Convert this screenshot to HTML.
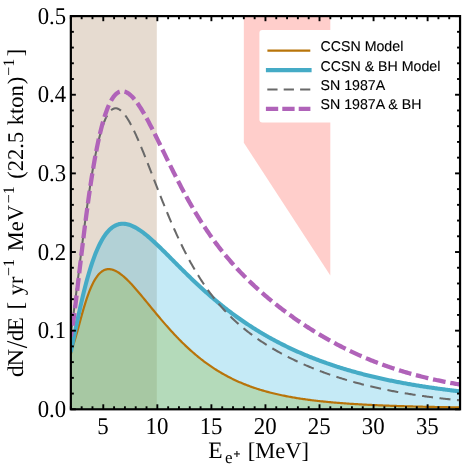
<!DOCTYPE html>
<html><head><meta charset="utf-8"><title>chart</title>
<style>
html,body{margin:0;padding:0;background:#fff;}
svg{display:block;}
text{font-family:"Liberation Serif",serif;font-size:22.5px;fill:#000;text-rendering:geometricPrecision;}
.lg text{font-family:"Liberation Sans",sans-serif;font-size:14.2px;stroke:#000;stroke-width:0.12px;}
</style></head><body>
<svg width="464" height="466" viewBox="0 0 464 466">
<defs><clipPath id="cin"><rect x="70.85" y="16.1" width="85.95000000000002" height="393.2"/></clipPath><clipPath id="cout"><rect x="156.8" y="16.1" width="303.25" height="393.2"/></clipPath><clipPath id="cp"><rect x="70.85" y="16.1" width="389.20000000000005" height="393.2"/></clipPath></defs>
<rect width="464" height="466" fill="#fff"/>
<g clip-path="url(#cp)">
<rect x="70.85" y="16.1" width="85.95000000000002" height="393.2" fill="#e6dbd0"/>
<polygon points="243.83,16.1 330.32,16.1 330.32,275.61 243.83,142.71" fill="#ffcecb"/>
<g><path d="M70.85,354.54 L71.93,348.75 L73.01,345.69 L74.09,342.47 L75.17,338.98 L76.26,335.25 L77.34,331.37 L78.42,327.39 L79.50,323.38 L80.58,319.38 L81.66,315.45 L82.74,311.61 L83.82,307.89 L84.90,304.31 L85.99,300.89 L87.07,297.64 L88.15,294.58 L89.23,291.69 L90.31,289.00 L91.39,286.50 L92.47,284.18 L93.55,282.06 L94.63,280.11 L95.72,278.35 L96.80,276.76 L97.88,275.34 L98.96,274.09 L100.04,272.99 L101.12,272.04 L102.20,271.24 L103.28,270.58 L104.36,270.05 L105.45,269.65 L106.53,269.37 L107.61,269.20 L108.69,269.14 L109.77,269.18 L110.85,269.31 L111.93,269.54 L113.01,269.85 L114.09,270.24 L115.18,270.71 L116.26,271.25 L117.34,271.86 L118.42,272.53 L119.50,273.25 L120.58,274.03 L121.66,274.87 L122.74,275.75 L123.82,276.67 L124.91,277.63 L125.99,278.64 L127.07,279.67 L128.15,280.74 L129.23,281.84 L130.31,282.97 L131.39,284.12 L132.47,285.30 L133.55,286.49 L134.64,287.71 L135.72,288.94 L136.80,290.18 L137.88,291.44 L138.96,292.72 L140.04,294.00 L141.12,295.29 L142.20,296.59 L143.28,297.90 L144.37,299.21 L145.45,300.52 L146.53,301.84 L147.61,303.16 L148.69,304.48 L149.77,305.80 L150.85,307.12 L151.93,308.44 L153.01,309.75 L154.10,311.07 L155.18,312.38 L156.26,313.68 L157.34,314.98 L158.42,316.27 L159.50,317.56 L160.58,318.84 L161.66,320.11 L162.74,321.38 L163.83,322.64 L164.91,323.88 L165.99,325.12 L167.07,326.35 L168.15,327.57 L169.23,328.78 L170.31,329.98 L171.39,331.17 L172.47,332.35 L173.56,333.52 L174.64,334.68 L175.72,335.82 L176.80,336.95 L177.88,338.08 L178.96,339.18 L180.04,340.28 L181.12,341.37 L182.20,342.44 L183.29,343.50 L184.37,344.55 L185.45,345.59 L186.53,346.61 L187.61,347.62 L188.69,348.62 L189.77,349.60 L190.85,350.57 L191.93,351.53 L193.02,352.48 L194.10,353.42 L195.18,354.34 L196.26,355.25 L197.34,356.14 L198.42,357.03 L199.50,357.90 L200.58,358.76 L201.66,359.60 L202.75,360.44 L203.83,361.26 L204.91,362.07 L205.99,362.87 L207.07,363.65 L208.15,364.43 L209.23,365.19 L210.31,365.94 L211.39,366.68 L212.48,367.40 L213.56,368.12 L214.64,368.82 L215.72,369.51 L216.80,370.20 L217.88,370.87 L218.96,371.53 L220.04,372.17 L221.12,372.81 L222.21,373.44 L223.29,374.06 L224.37,374.66 L225.45,375.26 L226.53,375.84 L227.61,376.42 L228.69,376.99 L229.77,377.54 L230.85,378.09 L231.94,378.63 L233.02,379.16 L234.10,379.68 L235.18,380.19 L236.26,380.69 L237.34,381.18 L238.42,381.66 L239.50,382.14 L240.58,382.61 L241.67,383.06 L242.75,383.51 L243.83,383.96 L244.91,384.39 L245.99,384.82 L247.07,385.24 L248.15,385.65 L249.23,386.05 L250.31,386.45 L251.40,386.84 L252.48,387.22 L253.56,387.59 L254.64,387.96 L255.72,388.32 L256.80,388.68 L257.88,389.02 L258.96,389.37 L260.04,389.70 L261.13,390.03 L262.21,390.35 L263.29,390.67 L264.37,390.98 L265.45,391.29 L266.53,391.59 L267.61,391.88 L268.69,392.17 L269.77,392.46 L270.86,392.73 L271.94,393.01 L273.02,393.27 L274.10,393.54 L275.18,393.80 L276.26,394.05 L277.34,394.30 L278.42,394.54 L279.50,394.78 L280.59,395.02 L281.67,395.25 L282.75,395.47 L283.83,395.69 L284.91,395.91 L285.99,396.13 L287.07,396.33 L288.15,396.54 L289.23,396.74 L290.32,396.94 L291.40,397.14 L292.48,397.33 L293.56,397.51 L294.64,397.70 L295.72,397.88 L296.80,398.05 L297.88,398.23 L298.96,398.40 L300.05,398.57 L301.13,398.73 L302.21,398.89 L303.29,399.05 L304.37,399.21 L305.45,399.36 L306.53,399.51 L307.61,399.66 L308.69,399.80 L309.78,399.94 L310.86,400.08 L311.94,400.22 L313.02,400.35 L314.10,400.48 L315.18,400.61 L316.26,400.74 L317.34,400.86 L318.42,400.99 L319.51,401.11 L320.59,401.22 L321.67,401.34 L322.75,401.45 L323.83,401.56 L324.91,401.67 L325.99,401.78 L327.07,401.89 L328.15,401.99 L329.24,402.09 L330.32,402.19 L331.40,402.29 L332.48,402.39 L333.56,402.49 L334.64,402.58 L335.72,402.67 L336.80,402.76 L337.88,402.85 L338.97,402.94 L340.05,403.02 L341.13,403.11 L342.21,403.19 L343.29,403.27 L344.37,403.35 L345.45,403.43 L346.53,403.51 L347.61,403.58 L348.70,403.66 L349.78,403.73 L350.86,403.80 L351.94,403.87 L353.02,403.94 L354.10,404.01 L355.18,404.08 L356.26,404.14 L357.34,404.21 L358.43,404.27 L359.51,404.34 L360.59,404.40 L361.67,404.46 L362.75,404.52 L363.83,404.58 L364.91,404.64 L365.99,404.69 L367.07,404.75 L368.16,404.80 L369.24,404.86 L370.32,404.91 L371.40,404.96 L372.48,405.02 L373.56,405.07 L374.64,405.12 L375.72,405.17 L376.80,405.22 L377.89,405.26 L378.97,405.31 L380.05,405.36 L381.13,405.40 L382.21,405.45 L383.29,405.49 L384.37,405.53 L385.45,405.58 L386.53,405.62 L387.62,405.66 L388.70,405.70 L389.78,405.74 L390.86,405.78 L391.94,405.82 L393.02,405.86 L394.10,405.90 L395.18,405.93 L396.26,405.97 L397.35,406.01 L398.43,406.04 L399.51,406.08 L400.59,406.11 L401.67,406.15 L402.75,406.18 L403.83,406.21 L404.91,406.25 L405.99,406.28 L407.08,406.31 L408.16,406.34 L409.24,406.37 L410.32,406.40 L411.40,406.43 L412.48,406.46 L413.56,406.49 L414.64,406.52 L415.72,406.55 L416.81,406.58 L417.89,406.60 L418.97,406.63 L420.05,406.66 L421.13,406.68 L422.21,406.71 L423.29,406.74 L424.37,406.76 L425.45,406.79 L426.54,406.81 L427.62,406.84 L428.70,406.86 L429.78,406.88 L430.86,406.91 L431.94,406.93 L433.02,406.95 L434.10,406.97 L435.18,407.00 L436.27,407.02 L437.35,407.04 L438.43,407.06 L439.51,407.08 L440.59,407.10 L441.67,407.12 L442.75,407.14 L443.83,407.16 L444.91,407.18 L446.00,407.20 L447.08,407.22 L448.16,407.24 L449.24,407.26 L450.32,407.28 L451.40,407.29 L452.48,407.31 L453.56,407.33 L454.64,407.35 L455.73,407.36 L456.81,407.38 L457.89,407.40 L458.97,407.41 L460.05,407.43 L460.05,409.30 L70.85,409.30 Z" fill="#b4daba"/><path d="M70.85,352.17 L71.93,346.95 L73.01,341.68 L74.09,336.39 L75.17,331.11 L76.26,325.89 L77.34,320.73 L78.42,315.66 L79.50,310.69 L80.58,305.84 L81.66,301.11 L82.74,296.51 L83.82,292.06 L84.90,287.75 L85.99,283.59 L87.07,279.59 L88.15,275.73 L89.23,272.04 L90.31,268.50 L91.39,265.12 L92.47,261.89 L93.55,258.81 L94.63,255.89 L95.72,253.12 L96.80,250.50 L97.88,248.02 L98.96,245.69 L100.04,243.50 L101.12,241.44 L102.20,239.52 L103.28,237.73 L104.36,236.06 L105.45,234.52 L106.53,233.10 L107.61,231.79 L108.69,230.60 L109.77,229.51 L110.85,228.53 L111.93,227.66 L113.01,226.88 L114.09,226.20 L115.18,225.60 L116.26,225.10 L117.34,224.68 L118.42,224.35 L119.50,224.09 L120.58,223.91 L121.66,223.80 L122.74,223.76 L123.82,223.78 L124.91,223.87 L125.99,224.02 L127.07,224.23 L128.15,224.49 L129.23,224.81 L130.31,225.17 L131.39,225.59 L132.47,226.05 L133.55,226.55 L134.64,227.10 L135.72,227.68 L136.80,228.30 L137.88,228.96 L138.96,229.65 L140.04,230.37 L141.12,231.12 L142.20,231.90 L143.28,232.70 L144.37,233.53 L145.45,234.39 L146.53,235.26 L147.61,236.16 L148.69,237.07 L149.77,238.01 L150.85,238.96 L151.93,239.92 L153.01,240.90 L154.10,241.89 L155.18,242.89 L156.26,243.91 L157.34,244.93 L158.42,245.97 L159.50,247.01 L160.58,248.06 L161.66,249.12 L162.74,250.18 L163.83,251.25 L164.91,252.32 L165.99,253.40 L167.07,254.48 L168.15,255.56 L169.23,256.65 L170.31,257.73 L171.39,258.82 L172.47,259.91 L173.56,261.00 L174.64,262.08 L175.72,263.17 L176.80,264.25 L177.88,265.34 L178.96,266.42 L180.04,267.50 L181.12,268.58 L182.20,269.65 L183.29,270.72 L184.37,271.79 L185.45,272.85 L186.53,273.91 L187.61,274.97 L188.69,276.02 L189.77,277.07 L190.85,278.11 L191.93,279.15 L193.02,280.18 L194.10,281.21 L195.18,282.23 L196.26,283.25 L197.34,284.26 L198.42,285.26 L199.50,286.26 L200.58,287.26 L201.66,288.24 L202.75,289.22 L203.83,290.20 L204.91,291.17 L205.99,292.13 L207.07,293.09 L208.15,294.04 L209.23,294.98 L210.31,295.92 L211.39,296.85 L212.48,297.78 L213.56,298.69 L214.64,299.61 L215.72,300.51 L216.80,301.41 L217.88,302.30 L218.96,303.19 L220.04,304.07 L221.12,304.94 L222.21,305.80 L223.29,306.66 L224.37,307.52 L225.45,308.36 L226.53,309.20 L227.61,310.03 L228.69,310.86 L229.77,311.68 L230.85,312.49 L231.94,313.30 L233.02,314.10 L234.10,314.90 L235.18,315.69 L236.26,316.47 L237.34,317.24 L238.42,318.01 L239.50,318.78 L240.58,319.53 L241.67,320.28 L242.75,321.03 L243.83,321.77 L244.91,322.50 L245.99,323.23 L247.07,323.95 L248.15,324.66 L249.23,325.37 L250.31,326.07 L251.40,326.77 L252.48,327.46 L253.56,328.15 L254.64,328.83 L255.72,329.50 L256.80,330.17 L257.88,330.83 L258.96,331.49 L260.04,332.14 L261.13,332.79 L262.21,333.43 L263.29,334.07 L264.37,334.70 L265.45,335.32 L266.53,335.94 L267.61,336.55 L268.69,337.16 L269.77,337.77 L270.86,338.37 L271.94,338.96 L273.02,339.55 L274.10,340.13 L275.18,340.71 L276.26,341.28 L277.34,341.85 L278.42,342.42 L279.50,342.98 L280.59,343.53 L281.67,344.08 L282.75,344.62 L283.83,345.16 L284.91,345.70 L285.99,346.23 L287.07,346.76 L288.15,347.28 L289.23,347.79 L290.32,348.31 L291.40,348.82 L292.48,349.32 L293.56,349.82 L294.64,350.31 L295.72,350.80 L296.80,351.29 L297.88,351.77 L298.96,352.25 L300.05,352.73 L301.13,353.20 L302.21,353.66 L303.29,354.12 L304.37,354.58 L305.45,355.03 L306.53,355.48 L307.61,355.93 L308.69,356.37 L309.78,356.81 L310.86,357.24 L311.94,357.67 L313.02,358.10 L314.10,358.52 L315.18,358.94 L316.26,359.36 L317.34,359.77 L318.42,360.18 L319.51,360.58 L320.59,360.98 L321.67,361.38 L322.75,361.77 L323.83,362.16 L324.91,362.55 L325.99,362.93 L327.07,363.31 L328.15,363.69 L329.24,364.06 L330.32,364.43 L331.40,364.80 L332.48,365.16 L333.56,365.52 L334.64,365.88 L335.72,366.23 L336.80,366.59 L337.88,366.93 L338.97,367.28 L340.05,367.62 L341.13,367.96 L342.21,368.29 L343.29,368.62 L344.37,368.95 L345.45,369.28 L346.53,369.60 L347.61,369.92 L348.70,370.24 L349.78,370.56 L350.86,370.87 L351.94,371.18 L353.02,371.48 L354.10,371.79 L355.18,372.09 L356.26,372.39 L357.34,372.68 L358.43,372.97 L359.51,373.26 L360.59,373.55 L361.67,373.84 L362.75,374.12 L363.83,374.40 L364.91,374.68 L365.99,374.95 L367.07,375.22 L368.16,375.49 L369.24,375.76 L370.32,376.03 L371.40,376.29 L372.48,376.55 L373.56,376.81 L374.64,377.06 L375.72,377.31 L376.80,377.57 L377.89,377.81 L378.97,378.06 L380.05,378.30 L381.13,378.55 L382.21,378.79 L383.29,379.02 L384.37,379.26 L385.45,379.49 L386.53,379.72 L387.62,379.95 L388.70,380.18 L389.78,380.40 L390.86,380.63 L391.94,380.85 L393.02,381.07 L394.10,381.28 L395.18,381.50 L396.26,381.71 L397.35,381.92 L398.43,382.13 L399.51,382.34 L400.59,382.54 L401.67,382.74 L402.75,382.95 L403.83,383.15 L404.91,383.34 L405.99,383.54 L407.08,383.73 L408.16,383.93 L409.24,384.12 L410.32,384.31 L411.40,384.49 L412.48,384.68 L413.56,384.86 L414.64,385.04 L415.72,385.22 L416.81,385.40 L417.89,385.58 L418.97,385.76 L420.05,385.93 L421.13,386.10 L422.21,386.27 L423.29,386.44 L424.37,386.61 L425.45,386.78 L426.54,386.94 L427.62,387.10 L428.70,387.26 L429.78,387.42 L430.86,387.58 L431.94,387.74 L433.02,387.90 L434.10,388.05 L435.18,388.20 L436.27,388.36 L437.35,388.51 L438.43,388.66 L439.51,388.80 L440.59,388.95 L441.67,389.09 L442.75,389.24 L443.83,389.38 L444.91,389.52 L446.00,389.66 L447.08,389.80 L448.16,389.94 L449.24,390.07 L450.32,390.21 L451.40,390.34 L452.48,390.47 L453.56,390.60 L454.64,390.73 L455.73,390.86 L456.81,390.99 L457.89,391.12 L458.97,391.24 L460.05,391.37 L460.05,407.43 L458.97,407.41 L457.89,407.40 L456.81,407.38 L455.73,407.36 L454.64,407.35 L453.56,407.33 L452.48,407.31 L451.40,407.29 L450.32,407.28 L449.24,407.26 L448.16,407.24 L447.08,407.22 L446.00,407.20 L444.91,407.18 L443.83,407.16 L442.75,407.14 L441.67,407.12 L440.59,407.10 L439.51,407.08 L438.43,407.06 L437.35,407.04 L436.27,407.02 L435.18,407.00 L434.10,406.97 L433.02,406.95 L431.94,406.93 L430.86,406.91 L429.78,406.88 L428.70,406.86 L427.62,406.84 L426.54,406.81 L425.45,406.79 L424.37,406.76 L423.29,406.74 L422.21,406.71 L421.13,406.68 L420.05,406.66 L418.97,406.63 L417.89,406.60 L416.81,406.58 L415.72,406.55 L414.64,406.52 L413.56,406.49 L412.48,406.46 L411.40,406.43 L410.32,406.40 L409.24,406.37 L408.16,406.34 L407.08,406.31 L405.99,406.28 L404.91,406.25 L403.83,406.21 L402.75,406.18 L401.67,406.15 L400.59,406.11 L399.51,406.08 L398.43,406.04 L397.35,406.01 L396.26,405.97 L395.18,405.93 L394.10,405.90 L393.02,405.86 L391.94,405.82 L390.86,405.78 L389.78,405.74 L388.70,405.70 L387.62,405.66 L386.53,405.62 L385.45,405.58 L384.37,405.53 L383.29,405.49 L382.21,405.45 L381.13,405.40 L380.05,405.36 L378.97,405.31 L377.89,405.26 L376.80,405.22 L375.72,405.17 L374.64,405.12 L373.56,405.07 L372.48,405.02 L371.40,404.96 L370.32,404.91 L369.24,404.86 L368.16,404.80 L367.07,404.75 L365.99,404.69 L364.91,404.64 L363.83,404.58 L362.75,404.52 L361.67,404.46 L360.59,404.40 L359.51,404.34 L358.43,404.27 L357.34,404.21 L356.26,404.14 L355.18,404.08 L354.10,404.01 L353.02,403.94 L351.94,403.87 L350.86,403.80 L349.78,403.73 L348.70,403.66 L347.61,403.58 L346.53,403.51 L345.45,403.43 L344.37,403.35 L343.29,403.27 L342.21,403.19 L341.13,403.11 L340.05,403.02 L338.97,402.94 L337.88,402.85 L336.80,402.76 L335.72,402.67 L334.64,402.58 L333.56,402.49 L332.48,402.39 L331.40,402.29 L330.32,402.19 L329.24,402.09 L328.15,401.99 L327.07,401.89 L325.99,401.78 L324.91,401.67 L323.83,401.56 L322.75,401.45 L321.67,401.34 L320.59,401.22 L319.51,401.11 L318.42,400.99 L317.34,400.86 L316.26,400.74 L315.18,400.61 L314.10,400.48 L313.02,400.35 L311.94,400.22 L310.86,400.08 L309.78,399.94 L308.69,399.80 L307.61,399.66 L306.53,399.51 L305.45,399.36 L304.37,399.21 L303.29,399.05 L302.21,398.89 L301.13,398.73 L300.05,398.57 L298.96,398.40 L297.88,398.23 L296.80,398.05 L295.72,397.88 L294.64,397.70 L293.56,397.51 L292.48,397.33 L291.40,397.14 L290.32,396.94 L289.23,396.74 L288.15,396.54 L287.07,396.33 L285.99,396.13 L284.91,395.91 L283.83,395.69 L282.75,395.47 L281.67,395.25 L280.59,395.02 L279.50,394.78 L278.42,394.54 L277.34,394.30 L276.26,394.05 L275.18,393.80 L274.10,393.54 L273.02,393.27 L271.94,393.01 L270.86,392.73 L269.77,392.46 L268.69,392.17 L267.61,391.88 L266.53,391.59 L265.45,391.29 L264.37,390.98 L263.29,390.67 L262.21,390.35 L261.13,390.03 L260.04,389.70 L258.96,389.37 L257.88,389.02 L256.80,388.68 L255.72,388.32 L254.64,387.96 L253.56,387.59 L252.48,387.22 L251.40,386.84 L250.31,386.45 L249.23,386.05 L248.15,385.65 L247.07,385.24 L245.99,384.82 L244.91,384.39 L243.83,383.96 L242.75,383.51 L241.67,383.06 L240.58,382.61 L239.50,382.14 L238.42,381.66 L237.34,381.18 L236.26,380.69 L235.18,380.19 L234.10,379.68 L233.02,379.16 L231.94,378.63 L230.85,378.09 L229.77,377.54 L228.69,376.99 L227.61,376.42 L226.53,375.84 L225.45,375.26 L224.37,374.66 L223.29,374.06 L222.21,373.44 L221.12,372.81 L220.04,372.17 L218.96,371.53 L217.88,370.87 L216.80,370.20 L215.72,369.51 L214.64,368.82 L213.56,368.12 L212.48,367.40 L211.39,366.68 L210.31,365.94 L209.23,365.19 L208.15,364.43 L207.07,363.65 L205.99,362.87 L204.91,362.07 L203.83,361.26 L202.75,360.44 L201.66,359.60 L200.58,358.76 L199.50,357.90 L198.42,357.03 L197.34,356.14 L196.26,355.25 L195.18,354.34 L194.10,353.42 L193.02,352.48 L191.93,351.53 L190.85,350.57 L189.77,349.60 L188.69,348.62 L187.61,347.62 L186.53,346.61 L185.45,345.59 L184.37,344.55 L183.29,343.50 L182.20,342.44 L181.12,341.37 L180.04,340.28 L178.96,339.18 L177.88,338.08 L176.80,336.95 L175.72,335.82 L174.64,334.68 L173.56,333.52 L172.47,332.35 L171.39,331.17 L170.31,329.98 L169.23,328.78 L168.15,327.57 L167.07,326.35 L165.99,325.12 L164.91,323.88 L163.83,322.64 L162.74,321.38 L161.66,320.11 L160.58,318.84 L159.50,317.56 L158.42,316.27 L157.34,314.98 L156.26,313.68 L155.18,312.38 L154.10,311.07 L153.01,309.75 L151.93,308.44 L150.85,307.12 L149.77,305.80 L148.69,304.48 L147.61,303.16 L146.53,301.84 L145.45,300.52 L144.37,299.21 L143.28,297.90 L142.20,296.59 L141.12,295.29 L140.04,294.00 L138.96,292.72 L137.88,291.44 L136.80,290.18 L135.72,288.94 L134.64,287.71 L133.55,286.49 L132.47,285.30 L131.39,284.12 L130.31,282.97 L129.23,281.84 L128.15,280.74 L127.07,279.67 L125.99,278.64 L124.91,277.63 L123.82,276.67 L122.74,275.75 L121.66,274.87 L120.58,274.03 L119.50,273.25 L118.42,272.53 L117.34,271.86 L116.26,271.25 L115.18,270.71 L114.09,270.24 L113.01,269.85 L111.93,269.54 L110.85,269.31 L109.77,269.18 L108.69,269.14 L107.61,269.20 L106.53,269.37 L105.45,269.65 L104.36,270.05 L103.28,270.58 L102.20,271.24 L101.12,272.04 L100.04,272.99 L98.96,274.09 L97.88,275.34 L96.80,276.76 L95.72,278.35 L94.63,280.11 L93.55,282.06 L92.47,284.18 L91.39,286.50 L90.31,289.00 L89.23,291.69 L88.15,294.58 L87.07,297.64 L85.99,300.89 L84.90,304.31 L83.82,307.89 L82.74,311.61 L81.66,315.45 L80.58,319.38 L79.50,323.38 L78.42,327.39 L77.34,331.37 L76.26,335.25 L75.17,338.98 L74.09,342.47 L73.01,345.69 L71.93,348.75 L70.85,354.54 Z" fill="#c5eaf6"/></g>
<g clip-path="url(#cin)"><path d="M70.85,354.54 L71.93,348.75 L73.01,345.69 L74.09,342.47 L75.17,338.98 L76.26,335.25 L77.34,331.37 L78.42,327.39 L79.50,323.38 L80.58,319.38 L81.66,315.45 L82.74,311.61 L83.82,307.89 L84.90,304.31 L85.99,300.89 L87.07,297.64 L88.15,294.58 L89.23,291.69 L90.31,289.00 L91.39,286.50 L92.47,284.18 L93.55,282.06 L94.63,280.11 L95.72,278.35 L96.80,276.76 L97.88,275.34 L98.96,274.09 L100.04,272.99 L101.12,272.04 L102.20,271.24 L103.28,270.58 L104.36,270.05 L105.45,269.65 L106.53,269.37 L107.61,269.20 L108.69,269.14 L109.77,269.18 L110.85,269.31 L111.93,269.54 L113.01,269.85 L114.09,270.24 L115.18,270.71 L116.26,271.25 L117.34,271.86 L118.42,272.53 L119.50,273.25 L120.58,274.03 L121.66,274.87 L122.74,275.75 L123.82,276.67 L124.91,277.63 L125.99,278.64 L127.07,279.67 L128.15,280.74 L129.23,281.84 L130.31,282.97 L131.39,284.12 L132.47,285.30 L133.55,286.49 L134.64,287.71 L135.72,288.94 L136.80,290.18 L137.88,291.44 L138.96,292.72 L140.04,294.00 L141.12,295.29 L142.20,296.59 L143.28,297.90 L144.37,299.21 L145.45,300.52 L146.53,301.84 L147.61,303.16 L148.69,304.48 L149.77,305.80 L150.85,307.12 L151.93,308.44 L153.01,309.75 L154.10,311.07 L155.18,312.38 L156.26,313.68 L157.34,314.98 L158.42,316.27 L159.50,317.56 L160.58,318.84 L161.66,320.11 L162.74,321.38 L163.83,322.64 L164.91,323.88 L165.99,325.12 L167.07,326.35 L168.15,327.57 L169.23,328.78 L170.31,329.98 L171.39,331.17 L172.47,332.35 L173.56,333.52 L174.64,334.68 L175.72,335.82 L176.80,336.95 L177.88,338.08 L178.96,339.18 L180.04,340.28 L181.12,341.37 L182.20,342.44 L183.29,343.50 L184.37,344.55 L185.45,345.59 L186.53,346.61 L187.61,347.62 L188.69,348.62 L189.77,349.60 L190.85,350.57 L191.93,351.53 L193.02,352.48 L194.10,353.42 L195.18,354.34 L196.26,355.25 L197.34,356.14 L198.42,357.03 L199.50,357.90 L200.58,358.76 L201.66,359.60 L202.75,360.44 L203.83,361.26 L204.91,362.07 L205.99,362.87 L207.07,363.65 L208.15,364.43 L209.23,365.19 L210.31,365.94 L211.39,366.68 L212.48,367.40 L213.56,368.12 L214.64,368.82 L215.72,369.51 L216.80,370.20 L217.88,370.87 L218.96,371.53 L220.04,372.17 L221.12,372.81 L222.21,373.44 L223.29,374.06 L224.37,374.66 L225.45,375.26 L226.53,375.84 L227.61,376.42 L228.69,376.99 L229.77,377.54 L230.85,378.09 L231.94,378.63 L233.02,379.16 L234.10,379.68 L235.18,380.19 L236.26,380.69 L237.34,381.18 L238.42,381.66 L239.50,382.14 L240.58,382.61 L241.67,383.06 L242.75,383.51 L243.83,383.96 L244.91,384.39 L245.99,384.82 L247.07,385.24 L248.15,385.65 L249.23,386.05 L250.31,386.45 L251.40,386.84 L252.48,387.22 L253.56,387.59 L254.64,387.96 L255.72,388.32 L256.80,388.68 L257.88,389.02 L258.96,389.37 L260.04,389.70 L261.13,390.03 L262.21,390.35 L263.29,390.67 L264.37,390.98 L265.45,391.29 L266.53,391.59 L267.61,391.88 L268.69,392.17 L269.77,392.46 L270.86,392.73 L271.94,393.01 L273.02,393.27 L274.10,393.54 L275.18,393.80 L276.26,394.05 L277.34,394.30 L278.42,394.54 L279.50,394.78 L280.59,395.02 L281.67,395.25 L282.75,395.47 L283.83,395.69 L284.91,395.91 L285.99,396.13 L287.07,396.33 L288.15,396.54 L289.23,396.74 L290.32,396.94 L291.40,397.14 L292.48,397.33 L293.56,397.51 L294.64,397.70 L295.72,397.88 L296.80,398.05 L297.88,398.23 L298.96,398.40 L300.05,398.57 L301.13,398.73 L302.21,398.89 L303.29,399.05 L304.37,399.21 L305.45,399.36 L306.53,399.51 L307.61,399.66 L308.69,399.80 L309.78,399.94 L310.86,400.08 L311.94,400.22 L313.02,400.35 L314.10,400.48 L315.18,400.61 L316.26,400.74 L317.34,400.86 L318.42,400.99 L319.51,401.11 L320.59,401.22 L321.67,401.34 L322.75,401.45 L323.83,401.56 L324.91,401.67 L325.99,401.78 L327.07,401.89 L328.15,401.99 L329.24,402.09 L330.32,402.19 L331.40,402.29 L332.48,402.39 L333.56,402.49 L334.64,402.58 L335.72,402.67 L336.80,402.76 L337.88,402.85 L338.97,402.94 L340.05,403.02 L341.13,403.11 L342.21,403.19 L343.29,403.27 L344.37,403.35 L345.45,403.43 L346.53,403.51 L347.61,403.58 L348.70,403.66 L349.78,403.73 L350.86,403.80 L351.94,403.87 L353.02,403.94 L354.10,404.01 L355.18,404.08 L356.26,404.14 L357.34,404.21 L358.43,404.27 L359.51,404.34 L360.59,404.40 L361.67,404.46 L362.75,404.52 L363.83,404.58 L364.91,404.64 L365.99,404.69 L367.07,404.75 L368.16,404.80 L369.24,404.86 L370.32,404.91 L371.40,404.96 L372.48,405.02 L373.56,405.07 L374.64,405.12 L375.72,405.17 L376.80,405.22 L377.89,405.26 L378.97,405.31 L380.05,405.36 L381.13,405.40 L382.21,405.45 L383.29,405.49 L384.37,405.53 L385.45,405.58 L386.53,405.62 L387.62,405.66 L388.70,405.70 L389.78,405.74 L390.86,405.78 L391.94,405.82 L393.02,405.86 L394.10,405.90 L395.18,405.93 L396.26,405.97 L397.35,406.01 L398.43,406.04 L399.51,406.08 L400.59,406.11 L401.67,406.15 L402.75,406.18 L403.83,406.21 L404.91,406.25 L405.99,406.28 L407.08,406.31 L408.16,406.34 L409.24,406.37 L410.32,406.40 L411.40,406.43 L412.48,406.46 L413.56,406.49 L414.64,406.52 L415.72,406.55 L416.81,406.58 L417.89,406.60 L418.97,406.63 L420.05,406.66 L421.13,406.68 L422.21,406.71 L423.29,406.74 L424.37,406.76 L425.45,406.79 L426.54,406.81 L427.62,406.84 L428.70,406.86 L429.78,406.88 L430.86,406.91 L431.94,406.93 L433.02,406.95 L434.10,406.97 L435.18,407.00 L436.27,407.02 L437.35,407.04 L438.43,407.06 L439.51,407.08 L440.59,407.10 L441.67,407.12 L442.75,407.14 L443.83,407.16 L444.91,407.18 L446.00,407.20 L447.08,407.22 L448.16,407.24 L449.24,407.26 L450.32,407.28 L451.40,407.29 L452.48,407.31 L453.56,407.33 L454.64,407.35 L455.73,407.36 L456.81,407.38 L457.89,407.40 L458.97,407.41 L460.05,407.43 L460.05,409.30 L70.85,409.30 Z" fill="#a7c8a3"/><path d="M70.85,352.17 L71.93,346.95 L73.01,341.68 L74.09,336.39 L75.17,331.11 L76.26,325.89 L77.34,320.73 L78.42,315.66 L79.50,310.69 L80.58,305.84 L81.66,301.11 L82.74,296.51 L83.82,292.06 L84.90,287.75 L85.99,283.59 L87.07,279.59 L88.15,275.73 L89.23,272.04 L90.31,268.50 L91.39,265.12 L92.47,261.89 L93.55,258.81 L94.63,255.89 L95.72,253.12 L96.80,250.50 L97.88,248.02 L98.96,245.69 L100.04,243.50 L101.12,241.44 L102.20,239.52 L103.28,237.73 L104.36,236.06 L105.45,234.52 L106.53,233.10 L107.61,231.79 L108.69,230.60 L109.77,229.51 L110.85,228.53 L111.93,227.66 L113.01,226.88 L114.09,226.20 L115.18,225.60 L116.26,225.10 L117.34,224.68 L118.42,224.35 L119.50,224.09 L120.58,223.91 L121.66,223.80 L122.74,223.76 L123.82,223.78 L124.91,223.87 L125.99,224.02 L127.07,224.23 L128.15,224.49 L129.23,224.81 L130.31,225.17 L131.39,225.59 L132.47,226.05 L133.55,226.55 L134.64,227.10 L135.72,227.68 L136.80,228.30 L137.88,228.96 L138.96,229.65 L140.04,230.37 L141.12,231.12 L142.20,231.90 L143.28,232.70 L144.37,233.53 L145.45,234.39 L146.53,235.26 L147.61,236.16 L148.69,237.07 L149.77,238.01 L150.85,238.96 L151.93,239.92 L153.01,240.90 L154.10,241.89 L155.18,242.89 L156.26,243.91 L157.34,244.93 L158.42,245.97 L159.50,247.01 L160.58,248.06 L161.66,249.12 L162.74,250.18 L163.83,251.25 L164.91,252.32 L165.99,253.40 L167.07,254.48 L168.15,255.56 L169.23,256.65 L170.31,257.73 L171.39,258.82 L172.47,259.91 L173.56,261.00 L174.64,262.08 L175.72,263.17 L176.80,264.25 L177.88,265.34 L178.96,266.42 L180.04,267.50 L181.12,268.58 L182.20,269.65 L183.29,270.72 L184.37,271.79 L185.45,272.85 L186.53,273.91 L187.61,274.97 L188.69,276.02 L189.77,277.07 L190.85,278.11 L191.93,279.15 L193.02,280.18 L194.10,281.21 L195.18,282.23 L196.26,283.25 L197.34,284.26 L198.42,285.26 L199.50,286.26 L200.58,287.26 L201.66,288.24 L202.75,289.22 L203.83,290.20 L204.91,291.17 L205.99,292.13 L207.07,293.09 L208.15,294.04 L209.23,294.98 L210.31,295.92 L211.39,296.85 L212.48,297.78 L213.56,298.69 L214.64,299.61 L215.72,300.51 L216.80,301.41 L217.88,302.30 L218.96,303.19 L220.04,304.07 L221.12,304.94 L222.21,305.80 L223.29,306.66 L224.37,307.52 L225.45,308.36 L226.53,309.20 L227.61,310.03 L228.69,310.86 L229.77,311.68 L230.85,312.49 L231.94,313.30 L233.02,314.10 L234.10,314.90 L235.18,315.69 L236.26,316.47 L237.34,317.24 L238.42,318.01 L239.50,318.78 L240.58,319.53 L241.67,320.28 L242.75,321.03 L243.83,321.77 L244.91,322.50 L245.99,323.23 L247.07,323.95 L248.15,324.66 L249.23,325.37 L250.31,326.07 L251.40,326.77 L252.48,327.46 L253.56,328.15 L254.64,328.83 L255.72,329.50 L256.80,330.17 L257.88,330.83 L258.96,331.49 L260.04,332.14 L261.13,332.79 L262.21,333.43 L263.29,334.07 L264.37,334.70 L265.45,335.32 L266.53,335.94 L267.61,336.55 L268.69,337.16 L269.77,337.77 L270.86,338.37 L271.94,338.96 L273.02,339.55 L274.10,340.13 L275.18,340.71 L276.26,341.28 L277.34,341.85 L278.42,342.42 L279.50,342.98 L280.59,343.53 L281.67,344.08 L282.75,344.62 L283.83,345.16 L284.91,345.70 L285.99,346.23 L287.07,346.76 L288.15,347.28 L289.23,347.79 L290.32,348.31 L291.40,348.82 L292.48,349.32 L293.56,349.82 L294.64,350.31 L295.72,350.80 L296.80,351.29 L297.88,351.77 L298.96,352.25 L300.05,352.73 L301.13,353.20 L302.21,353.66 L303.29,354.12 L304.37,354.58 L305.45,355.03 L306.53,355.48 L307.61,355.93 L308.69,356.37 L309.78,356.81 L310.86,357.24 L311.94,357.67 L313.02,358.10 L314.10,358.52 L315.18,358.94 L316.26,359.36 L317.34,359.77 L318.42,360.18 L319.51,360.58 L320.59,360.98 L321.67,361.38 L322.75,361.77 L323.83,362.16 L324.91,362.55 L325.99,362.93 L327.07,363.31 L328.15,363.69 L329.24,364.06 L330.32,364.43 L331.40,364.80 L332.48,365.16 L333.56,365.52 L334.64,365.88 L335.72,366.23 L336.80,366.59 L337.88,366.93 L338.97,367.28 L340.05,367.62 L341.13,367.96 L342.21,368.29 L343.29,368.62 L344.37,368.95 L345.45,369.28 L346.53,369.60 L347.61,369.92 L348.70,370.24 L349.78,370.56 L350.86,370.87 L351.94,371.18 L353.02,371.48 L354.10,371.79 L355.18,372.09 L356.26,372.39 L357.34,372.68 L358.43,372.97 L359.51,373.26 L360.59,373.55 L361.67,373.84 L362.75,374.12 L363.83,374.40 L364.91,374.68 L365.99,374.95 L367.07,375.22 L368.16,375.49 L369.24,375.76 L370.32,376.03 L371.40,376.29 L372.48,376.55 L373.56,376.81 L374.64,377.06 L375.72,377.31 L376.80,377.57 L377.89,377.81 L378.97,378.06 L380.05,378.30 L381.13,378.55 L382.21,378.79 L383.29,379.02 L384.37,379.26 L385.45,379.49 L386.53,379.72 L387.62,379.95 L388.70,380.18 L389.78,380.40 L390.86,380.63 L391.94,380.85 L393.02,381.07 L394.10,381.28 L395.18,381.50 L396.26,381.71 L397.35,381.92 L398.43,382.13 L399.51,382.34 L400.59,382.54 L401.67,382.74 L402.75,382.95 L403.83,383.15 L404.91,383.34 L405.99,383.54 L407.08,383.73 L408.16,383.93 L409.24,384.12 L410.32,384.31 L411.40,384.49 L412.48,384.68 L413.56,384.86 L414.64,385.04 L415.72,385.22 L416.81,385.40 L417.89,385.58 L418.97,385.76 L420.05,385.93 L421.13,386.10 L422.21,386.27 L423.29,386.44 L424.37,386.61 L425.45,386.78 L426.54,386.94 L427.62,387.10 L428.70,387.26 L429.78,387.42 L430.86,387.58 L431.94,387.74 L433.02,387.90 L434.10,388.05 L435.18,388.20 L436.27,388.36 L437.35,388.51 L438.43,388.66 L439.51,388.80 L440.59,388.95 L441.67,389.09 L442.75,389.24 L443.83,389.38 L444.91,389.52 L446.00,389.66 L447.08,389.80 L448.16,389.94 L449.24,390.07 L450.32,390.21 L451.40,390.34 L452.48,390.47 L453.56,390.60 L454.64,390.73 L455.73,390.86 L456.81,390.99 L457.89,391.12 L458.97,391.24 L460.05,391.37 L460.05,407.43 L458.97,407.41 L457.89,407.40 L456.81,407.38 L455.73,407.36 L454.64,407.35 L453.56,407.33 L452.48,407.31 L451.40,407.29 L450.32,407.28 L449.24,407.26 L448.16,407.24 L447.08,407.22 L446.00,407.20 L444.91,407.18 L443.83,407.16 L442.75,407.14 L441.67,407.12 L440.59,407.10 L439.51,407.08 L438.43,407.06 L437.35,407.04 L436.27,407.02 L435.18,407.00 L434.10,406.97 L433.02,406.95 L431.94,406.93 L430.86,406.91 L429.78,406.88 L428.70,406.86 L427.62,406.84 L426.54,406.81 L425.45,406.79 L424.37,406.76 L423.29,406.74 L422.21,406.71 L421.13,406.68 L420.05,406.66 L418.97,406.63 L417.89,406.60 L416.81,406.58 L415.72,406.55 L414.64,406.52 L413.56,406.49 L412.48,406.46 L411.40,406.43 L410.32,406.40 L409.24,406.37 L408.16,406.34 L407.08,406.31 L405.99,406.28 L404.91,406.25 L403.83,406.21 L402.75,406.18 L401.67,406.15 L400.59,406.11 L399.51,406.08 L398.43,406.04 L397.35,406.01 L396.26,405.97 L395.18,405.93 L394.10,405.90 L393.02,405.86 L391.94,405.82 L390.86,405.78 L389.78,405.74 L388.70,405.70 L387.62,405.66 L386.53,405.62 L385.45,405.58 L384.37,405.53 L383.29,405.49 L382.21,405.45 L381.13,405.40 L380.05,405.36 L378.97,405.31 L377.89,405.26 L376.80,405.22 L375.72,405.17 L374.64,405.12 L373.56,405.07 L372.48,405.02 L371.40,404.96 L370.32,404.91 L369.24,404.86 L368.16,404.80 L367.07,404.75 L365.99,404.69 L364.91,404.64 L363.83,404.58 L362.75,404.52 L361.67,404.46 L360.59,404.40 L359.51,404.34 L358.43,404.27 L357.34,404.21 L356.26,404.14 L355.18,404.08 L354.10,404.01 L353.02,403.94 L351.94,403.87 L350.86,403.80 L349.78,403.73 L348.70,403.66 L347.61,403.58 L346.53,403.51 L345.45,403.43 L344.37,403.35 L343.29,403.27 L342.21,403.19 L341.13,403.11 L340.05,403.02 L338.97,402.94 L337.88,402.85 L336.80,402.76 L335.72,402.67 L334.64,402.58 L333.56,402.49 L332.48,402.39 L331.40,402.29 L330.32,402.19 L329.24,402.09 L328.15,401.99 L327.07,401.89 L325.99,401.78 L324.91,401.67 L323.83,401.56 L322.75,401.45 L321.67,401.34 L320.59,401.22 L319.51,401.11 L318.42,400.99 L317.34,400.86 L316.26,400.74 L315.18,400.61 L314.10,400.48 L313.02,400.35 L311.94,400.22 L310.86,400.08 L309.78,399.94 L308.69,399.80 L307.61,399.66 L306.53,399.51 L305.45,399.36 L304.37,399.21 L303.29,399.05 L302.21,398.89 L301.13,398.73 L300.05,398.57 L298.96,398.40 L297.88,398.23 L296.80,398.05 L295.72,397.88 L294.64,397.70 L293.56,397.51 L292.48,397.33 L291.40,397.14 L290.32,396.94 L289.23,396.74 L288.15,396.54 L287.07,396.33 L285.99,396.13 L284.91,395.91 L283.83,395.69 L282.75,395.47 L281.67,395.25 L280.59,395.02 L279.50,394.78 L278.42,394.54 L277.34,394.30 L276.26,394.05 L275.18,393.80 L274.10,393.54 L273.02,393.27 L271.94,393.01 L270.86,392.73 L269.77,392.46 L268.69,392.17 L267.61,391.88 L266.53,391.59 L265.45,391.29 L264.37,390.98 L263.29,390.67 L262.21,390.35 L261.13,390.03 L260.04,389.70 L258.96,389.37 L257.88,389.02 L256.80,388.68 L255.72,388.32 L254.64,387.96 L253.56,387.59 L252.48,387.22 L251.40,386.84 L250.31,386.45 L249.23,386.05 L248.15,385.65 L247.07,385.24 L245.99,384.82 L244.91,384.39 L243.83,383.96 L242.75,383.51 L241.67,383.06 L240.58,382.61 L239.50,382.14 L238.42,381.66 L237.34,381.18 L236.26,380.69 L235.18,380.19 L234.10,379.68 L233.02,379.16 L231.94,378.63 L230.85,378.09 L229.77,377.54 L228.69,376.99 L227.61,376.42 L226.53,375.84 L225.45,375.26 L224.37,374.66 L223.29,374.06 L222.21,373.44 L221.12,372.81 L220.04,372.17 L218.96,371.53 L217.88,370.87 L216.80,370.20 L215.72,369.51 L214.64,368.82 L213.56,368.12 L212.48,367.40 L211.39,366.68 L210.31,365.94 L209.23,365.19 L208.15,364.43 L207.07,363.65 L205.99,362.87 L204.91,362.07 L203.83,361.26 L202.75,360.44 L201.66,359.60 L200.58,358.76 L199.50,357.90 L198.42,357.03 L197.34,356.14 L196.26,355.25 L195.18,354.34 L194.10,353.42 L193.02,352.48 L191.93,351.53 L190.85,350.57 L189.77,349.60 L188.69,348.62 L187.61,347.62 L186.53,346.61 L185.45,345.59 L184.37,344.55 L183.29,343.50 L182.20,342.44 L181.12,341.37 L180.04,340.28 L178.96,339.18 L177.88,338.08 L176.80,336.95 L175.72,335.82 L174.64,334.68 L173.56,333.52 L172.47,332.35 L171.39,331.17 L170.31,329.98 L169.23,328.78 L168.15,327.57 L167.07,326.35 L165.99,325.12 L164.91,323.88 L163.83,322.64 L162.74,321.38 L161.66,320.11 L160.58,318.84 L159.50,317.56 L158.42,316.27 L157.34,314.98 L156.26,313.68 L155.18,312.38 L154.10,311.07 L153.01,309.75 L151.93,308.44 L150.85,307.12 L149.77,305.80 L148.69,304.48 L147.61,303.16 L146.53,301.84 L145.45,300.52 L144.37,299.21 L143.28,297.90 L142.20,296.59 L141.12,295.29 L140.04,294.00 L138.96,292.72 L137.88,291.44 L136.80,290.18 L135.72,288.94 L134.64,287.71 L133.55,286.49 L132.47,285.30 L131.39,284.12 L130.31,282.97 L129.23,281.84 L128.15,280.74 L127.07,279.67 L125.99,278.64 L124.91,277.63 L123.82,276.67 L122.74,275.75 L121.66,274.87 L120.58,274.03 L119.50,273.25 L118.42,272.53 L117.34,271.86 L116.26,271.25 L115.18,270.71 L114.09,270.24 L113.01,269.85 L111.93,269.54 L110.85,269.31 L109.77,269.18 L108.69,269.14 L107.61,269.20 L106.53,269.37 L105.45,269.65 L104.36,270.05 L103.28,270.58 L102.20,271.24 L101.12,272.04 L100.04,272.99 L98.96,274.09 L97.88,275.34 L96.80,276.76 L95.72,278.35 L94.63,280.11 L93.55,282.06 L92.47,284.18 L91.39,286.50 L90.31,289.00 L89.23,291.69 L88.15,294.58 L87.07,297.64 L85.99,300.89 L84.90,304.31 L83.82,307.89 L82.74,311.61 L81.66,315.45 L80.58,319.38 L79.50,323.38 L78.42,327.39 L77.34,331.37 L76.26,335.25 L75.17,338.98 L74.09,342.47 L73.01,345.69 L71.93,348.75 L70.85,354.54 Z" fill="#b2d1d6"/></g>
<path d="M70.85,354.54 L71.93,348.75 L73.01,345.69 L74.09,342.47 L75.17,338.98 L76.26,335.25 L77.34,331.37 L78.42,327.39 L79.50,323.38 L80.58,319.38 L81.66,315.45 L82.74,311.61 L83.82,307.89 L84.90,304.31 L85.99,300.89 L87.07,297.64 L88.15,294.58 L89.23,291.69 L90.31,289.00 L91.39,286.50 L92.47,284.18 L93.55,282.06 L94.63,280.11 L95.72,278.35 L96.80,276.76 L97.88,275.34 L98.96,274.09 L100.04,272.99 L101.12,272.04 L102.20,271.24 L103.28,270.58 L104.36,270.05 L105.45,269.65 L106.53,269.37 L107.61,269.20 L108.69,269.14 L109.77,269.18 L110.85,269.31 L111.93,269.54 L113.01,269.85 L114.09,270.24 L115.18,270.71 L116.26,271.25 L117.34,271.86 L118.42,272.53 L119.50,273.25 L120.58,274.03 L121.66,274.87 L122.74,275.75 L123.82,276.67 L124.91,277.63 L125.99,278.64 L127.07,279.67 L128.15,280.74 L129.23,281.84 L130.31,282.97 L131.39,284.12 L132.47,285.30 L133.55,286.49 L134.64,287.71 L135.72,288.94 L136.80,290.18 L137.88,291.44 L138.96,292.72 L140.04,294.00 L141.12,295.29 L142.20,296.59 L143.28,297.90 L144.37,299.21 L145.45,300.52 L146.53,301.84 L147.61,303.16 L148.69,304.48 L149.77,305.80 L150.85,307.12 L151.93,308.44 L153.01,309.75 L154.10,311.07 L155.18,312.38 L156.26,313.68 L157.34,314.98 L158.42,316.27 L159.50,317.56 L160.58,318.84 L161.66,320.11 L162.74,321.38 L163.83,322.64 L164.91,323.88 L165.99,325.12 L167.07,326.35 L168.15,327.57 L169.23,328.78 L170.31,329.98 L171.39,331.17 L172.47,332.35 L173.56,333.52 L174.64,334.68 L175.72,335.82 L176.80,336.95 L177.88,338.08 L178.96,339.18 L180.04,340.28 L181.12,341.37 L182.20,342.44 L183.29,343.50 L184.37,344.55 L185.45,345.59 L186.53,346.61 L187.61,347.62 L188.69,348.62 L189.77,349.60 L190.85,350.57 L191.93,351.53 L193.02,352.48 L194.10,353.42 L195.18,354.34 L196.26,355.25 L197.34,356.14 L198.42,357.03 L199.50,357.90 L200.58,358.76 L201.66,359.60 L202.75,360.44 L203.83,361.26 L204.91,362.07 L205.99,362.87 L207.07,363.65 L208.15,364.43 L209.23,365.19 L210.31,365.94 L211.39,366.68 L212.48,367.40 L213.56,368.12 L214.64,368.82 L215.72,369.51 L216.80,370.20 L217.88,370.87 L218.96,371.53 L220.04,372.17 L221.12,372.81 L222.21,373.44 L223.29,374.06 L224.37,374.66 L225.45,375.26 L226.53,375.84 L227.61,376.42 L228.69,376.99 L229.77,377.54 L230.85,378.09 L231.94,378.63 L233.02,379.16 L234.10,379.68 L235.18,380.19 L236.26,380.69 L237.34,381.18 L238.42,381.66 L239.50,382.14 L240.58,382.61 L241.67,383.06 L242.75,383.51 L243.83,383.96 L244.91,384.39 L245.99,384.82 L247.07,385.24 L248.15,385.65 L249.23,386.05 L250.31,386.45 L251.40,386.84 L252.48,387.22 L253.56,387.59 L254.64,387.96 L255.72,388.32 L256.80,388.68 L257.88,389.02 L258.96,389.37 L260.04,389.70 L261.13,390.03 L262.21,390.35 L263.29,390.67 L264.37,390.98 L265.45,391.29 L266.53,391.59 L267.61,391.88 L268.69,392.17 L269.77,392.46 L270.86,392.73 L271.94,393.01 L273.02,393.27 L274.10,393.54 L275.18,393.80 L276.26,394.05 L277.34,394.30 L278.42,394.54 L279.50,394.78 L280.59,395.02 L281.67,395.25 L282.75,395.47 L283.83,395.69 L284.91,395.91 L285.99,396.13 L287.07,396.33 L288.15,396.54 L289.23,396.74 L290.32,396.94 L291.40,397.14 L292.48,397.33 L293.56,397.51 L294.64,397.70 L295.72,397.88 L296.80,398.05 L297.88,398.23 L298.96,398.40 L300.05,398.57 L301.13,398.73 L302.21,398.89 L303.29,399.05 L304.37,399.21 L305.45,399.36 L306.53,399.51 L307.61,399.66 L308.69,399.80 L309.78,399.94 L310.86,400.08 L311.94,400.22 L313.02,400.35 L314.10,400.48 L315.18,400.61 L316.26,400.74 L317.34,400.86 L318.42,400.99 L319.51,401.11 L320.59,401.22 L321.67,401.34 L322.75,401.45 L323.83,401.56 L324.91,401.67 L325.99,401.78 L327.07,401.89 L328.15,401.99 L329.24,402.09 L330.32,402.19 L331.40,402.29 L332.48,402.39 L333.56,402.49 L334.64,402.58 L335.72,402.67 L336.80,402.76 L337.88,402.85 L338.97,402.94 L340.05,403.02 L341.13,403.11 L342.21,403.19 L343.29,403.27 L344.37,403.35 L345.45,403.43 L346.53,403.51 L347.61,403.58 L348.70,403.66 L349.78,403.73 L350.86,403.80 L351.94,403.87 L353.02,403.94 L354.10,404.01 L355.18,404.08 L356.26,404.14 L357.34,404.21 L358.43,404.27 L359.51,404.34 L360.59,404.40 L361.67,404.46 L362.75,404.52 L363.83,404.58 L364.91,404.64 L365.99,404.69 L367.07,404.75 L368.16,404.80 L369.24,404.86 L370.32,404.91 L371.40,404.96 L372.48,405.02 L373.56,405.07 L374.64,405.12 L375.72,405.17 L376.80,405.22 L377.89,405.26 L378.97,405.31 L380.05,405.36 L381.13,405.40 L382.21,405.45 L383.29,405.49 L384.37,405.53 L385.45,405.58 L386.53,405.62 L387.62,405.66 L388.70,405.70 L389.78,405.74 L390.86,405.78 L391.94,405.82 L393.02,405.86 L394.10,405.90 L395.18,405.93 L396.26,405.97 L397.35,406.01 L398.43,406.04 L399.51,406.08 L400.59,406.11 L401.67,406.15 L402.75,406.18 L403.83,406.21 L404.91,406.25 L405.99,406.28 L407.08,406.31 L408.16,406.34 L409.24,406.37 L410.32,406.40 L411.40,406.43 L412.48,406.46 L413.56,406.49 L414.64,406.52 L415.72,406.55 L416.81,406.58 L417.89,406.60 L418.97,406.63 L420.05,406.66 L421.13,406.68 L422.21,406.71 L423.29,406.74 L424.37,406.76 L425.45,406.79 L426.54,406.81 L427.62,406.84 L428.70,406.86 L429.78,406.88 L430.86,406.91 L431.94,406.93 L433.02,406.95 L434.10,406.97 L435.18,407.00 L436.27,407.02 L437.35,407.04 L438.43,407.06 L439.51,407.08 L440.59,407.10 L441.67,407.12 L442.75,407.14 L443.83,407.16 L444.91,407.18 L446.00,407.20 L447.08,407.22 L448.16,407.24 L449.24,407.26 L450.32,407.28 L451.40,407.29 L452.48,407.31 L453.56,407.33 L454.64,407.35 L455.73,407.36 L456.81,407.38 L457.89,407.40 L458.97,407.41 L460.05,407.43" fill="none" stroke="#b8740a" stroke-width="2.2" stroke-linejoin="round"/>
<path d="M70.85,352.17 L71.93,346.95 L73.01,341.68 L74.09,336.39 L75.17,331.11 L76.26,325.89 L77.34,320.73 L78.42,315.66 L79.50,310.69 L80.58,305.84 L81.66,301.11 L82.74,296.51 L83.82,292.06 L84.90,287.75 L85.99,283.59 L87.07,279.59 L88.15,275.73 L89.23,272.04 L90.31,268.50 L91.39,265.12 L92.47,261.89 L93.55,258.81 L94.63,255.89 L95.72,253.12 L96.80,250.50 L97.88,248.02 L98.96,245.69 L100.04,243.50 L101.12,241.44 L102.20,239.52 L103.28,237.73 L104.36,236.06 L105.45,234.52 L106.53,233.10 L107.61,231.79 L108.69,230.60 L109.77,229.51 L110.85,228.53 L111.93,227.66 L113.01,226.88 L114.09,226.20 L115.18,225.60 L116.26,225.10 L117.34,224.68 L118.42,224.35 L119.50,224.09 L120.58,223.91 L121.66,223.80 L122.74,223.76 L123.82,223.78 L124.91,223.87 L125.99,224.02 L127.07,224.23 L128.15,224.49 L129.23,224.81 L130.31,225.17 L131.39,225.59 L132.47,226.05 L133.55,226.55 L134.64,227.10 L135.72,227.68 L136.80,228.30 L137.88,228.96 L138.96,229.65 L140.04,230.37 L141.12,231.12 L142.20,231.90 L143.28,232.70 L144.37,233.53 L145.45,234.39 L146.53,235.26 L147.61,236.16 L148.69,237.07 L149.77,238.01 L150.85,238.96 L151.93,239.92 L153.01,240.90 L154.10,241.89 L155.18,242.89 L156.26,243.91 L157.34,244.93 L158.42,245.97 L159.50,247.01 L160.58,248.06 L161.66,249.12 L162.74,250.18 L163.83,251.25 L164.91,252.32 L165.99,253.40 L167.07,254.48 L168.15,255.56 L169.23,256.65 L170.31,257.73 L171.39,258.82 L172.47,259.91 L173.56,261.00 L174.64,262.08 L175.72,263.17 L176.80,264.25 L177.88,265.34 L178.96,266.42 L180.04,267.50 L181.12,268.58 L182.20,269.65 L183.29,270.72 L184.37,271.79 L185.45,272.85 L186.53,273.91 L187.61,274.97 L188.69,276.02 L189.77,277.07 L190.85,278.11 L191.93,279.15 L193.02,280.18 L194.10,281.21 L195.18,282.23 L196.26,283.25 L197.34,284.26 L198.42,285.26 L199.50,286.26 L200.58,287.26 L201.66,288.24 L202.75,289.22 L203.83,290.20 L204.91,291.17 L205.99,292.13 L207.07,293.09 L208.15,294.04 L209.23,294.98 L210.31,295.92 L211.39,296.85 L212.48,297.78 L213.56,298.69 L214.64,299.61 L215.72,300.51 L216.80,301.41 L217.88,302.30 L218.96,303.19 L220.04,304.07 L221.12,304.94 L222.21,305.80 L223.29,306.66 L224.37,307.52 L225.45,308.36 L226.53,309.20 L227.61,310.03 L228.69,310.86 L229.77,311.68 L230.85,312.49 L231.94,313.30 L233.02,314.10 L234.10,314.90 L235.18,315.69 L236.26,316.47 L237.34,317.24 L238.42,318.01 L239.50,318.78 L240.58,319.53 L241.67,320.28 L242.75,321.03 L243.83,321.77 L244.91,322.50 L245.99,323.23 L247.07,323.95 L248.15,324.66 L249.23,325.37 L250.31,326.07 L251.40,326.77 L252.48,327.46 L253.56,328.15 L254.64,328.83 L255.72,329.50 L256.80,330.17 L257.88,330.83 L258.96,331.49 L260.04,332.14 L261.13,332.79 L262.21,333.43 L263.29,334.07 L264.37,334.70 L265.45,335.32 L266.53,335.94 L267.61,336.55 L268.69,337.16 L269.77,337.77 L270.86,338.37 L271.94,338.96 L273.02,339.55 L274.10,340.13 L275.18,340.71 L276.26,341.28 L277.34,341.85 L278.42,342.42 L279.50,342.98 L280.59,343.53 L281.67,344.08 L282.75,344.62 L283.83,345.16 L284.91,345.70 L285.99,346.23 L287.07,346.76 L288.15,347.28 L289.23,347.79 L290.32,348.31 L291.40,348.82 L292.48,349.32 L293.56,349.82 L294.64,350.31 L295.72,350.80 L296.80,351.29 L297.88,351.77 L298.96,352.25 L300.05,352.73 L301.13,353.20 L302.21,353.66 L303.29,354.12 L304.37,354.58 L305.45,355.03 L306.53,355.48 L307.61,355.93 L308.69,356.37 L309.78,356.81 L310.86,357.24 L311.94,357.67 L313.02,358.10 L314.10,358.52 L315.18,358.94 L316.26,359.36 L317.34,359.77 L318.42,360.18 L319.51,360.58 L320.59,360.98 L321.67,361.38 L322.75,361.77 L323.83,362.16 L324.91,362.55 L325.99,362.93 L327.07,363.31 L328.15,363.69 L329.24,364.06 L330.32,364.43 L331.40,364.80 L332.48,365.16 L333.56,365.52 L334.64,365.88 L335.72,366.23 L336.80,366.59 L337.88,366.93 L338.97,367.28 L340.05,367.62 L341.13,367.96 L342.21,368.29 L343.29,368.62 L344.37,368.95 L345.45,369.28 L346.53,369.60 L347.61,369.92 L348.70,370.24 L349.78,370.56 L350.86,370.87 L351.94,371.18 L353.02,371.48 L354.10,371.79 L355.18,372.09 L356.26,372.39 L357.34,372.68 L358.43,372.97 L359.51,373.26 L360.59,373.55 L361.67,373.84 L362.75,374.12 L363.83,374.40 L364.91,374.68 L365.99,374.95 L367.07,375.22 L368.16,375.49 L369.24,375.76 L370.32,376.03 L371.40,376.29 L372.48,376.55 L373.56,376.81 L374.64,377.06 L375.72,377.31 L376.80,377.57 L377.89,377.81 L378.97,378.06 L380.05,378.30 L381.13,378.55 L382.21,378.79 L383.29,379.02 L384.37,379.26 L385.45,379.49 L386.53,379.72 L387.62,379.95 L388.70,380.18 L389.78,380.40 L390.86,380.63 L391.94,380.85 L393.02,381.07 L394.10,381.28 L395.18,381.50 L396.26,381.71 L397.35,381.92 L398.43,382.13 L399.51,382.34 L400.59,382.54 L401.67,382.74 L402.75,382.95 L403.83,383.15 L404.91,383.34 L405.99,383.54 L407.08,383.73 L408.16,383.93 L409.24,384.12 L410.32,384.31 L411.40,384.49 L412.48,384.68 L413.56,384.86 L414.64,385.04 L415.72,385.22 L416.81,385.40 L417.89,385.58 L418.97,385.76 L420.05,385.93 L421.13,386.10 L422.21,386.27 L423.29,386.44 L424.37,386.61 L425.45,386.78 L426.54,386.94 L427.62,387.10 L428.70,387.26 L429.78,387.42 L430.86,387.58 L431.94,387.74 L433.02,387.90 L434.10,388.05 L435.18,388.20 L436.27,388.36 L437.35,388.51 L438.43,388.66 L439.51,388.80 L440.59,388.95 L441.67,389.09 L442.75,389.24 L443.83,389.38 L444.91,389.52 L446.00,389.66 L447.08,389.80 L448.16,389.94 L449.24,390.07 L450.32,390.21 L451.40,390.34 L452.48,390.47 L453.56,390.60 L454.64,390.73 L455.73,390.86 L456.81,390.99 L457.89,391.12 L458.97,391.24 L460.05,391.37" fill="none" stroke="#45abc6" stroke-width="4.1" stroke-linejoin="round"/>
<path d="M70.85,333.42 L71.93,325.72 L73.01,317.75 L74.09,309.54 L75.17,301.12 L76.26,292.54 L77.34,283.84 L78.42,275.06 L79.50,266.25 L80.58,257.44 L81.66,248.69 L82.74,240.02 L83.82,231.49 L84.90,223.11 L85.99,214.93 L87.07,206.97 L88.15,199.25 L89.23,191.81 L90.31,184.65 L91.39,177.79 L92.47,171.25 L93.55,165.04 L94.63,159.16 L95.72,153.62 L96.80,148.42 L97.88,143.56 L98.96,139.05 L100.04,134.87 L101.12,131.04 L102.20,127.53 L103.28,124.34 L104.36,121.48 L105.45,118.92 L106.53,116.67 L107.61,114.70 L108.69,113.02 L109.77,111.61 L110.85,110.47 L111.93,109.58 L113.01,108.92 L114.09,108.51 L115.18,108.31 L116.26,108.32 L117.34,108.54 L118.42,108.95 L119.50,109.54 L120.58,110.30 L121.66,111.23 L122.74,112.31 L123.82,113.53 L124.91,114.90 L125.99,116.39 L127.07,118.00 L128.15,119.73 L129.23,121.56 L130.31,123.50 L131.39,125.52 L132.47,127.63 L133.55,129.82 L134.64,132.09 L135.72,134.42 L136.80,136.81 L137.88,139.26 L138.96,141.76 L140.04,144.31 L141.12,146.90 L142.20,149.52 L143.28,152.18 L144.37,154.87 L145.45,157.58 L146.53,160.31 L147.61,163.07 L148.69,165.83 L149.77,168.61 L150.85,171.39 L151.93,174.18 L153.01,176.97 L154.10,179.76 L155.18,182.54 L156.26,185.32 L157.34,188.10 L158.42,190.86 L159.50,193.61 L160.58,196.35 L161.66,199.07 L162.74,201.78 L163.83,204.46 L164.91,207.13 L165.99,209.77 L167.07,212.40 L168.15,214.99 L169.23,217.57 L170.31,220.12 L171.39,222.64 L172.47,225.13 L173.56,227.60 L174.64,230.03 L175.72,232.44 L176.80,234.82 L177.88,237.16 L178.96,239.48 L180.04,241.77 L181.12,244.02 L182.20,246.24 L183.29,248.43 L184.37,250.59 L185.45,252.72 L186.53,254.82 L187.61,256.88 L188.69,258.91 L189.77,260.92 L190.85,262.89 L191.93,264.82 L193.02,266.73 L194.10,268.61 L195.18,270.46 L196.26,272.27 L197.34,274.06 L198.42,275.82 L199.50,277.54 L200.58,279.24 L201.66,280.91 L202.75,282.56 L203.83,284.17 L204.91,285.76 L205.99,287.32 L207.07,288.86 L208.15,290.36 L209.23,291.85 L210.31,293.31 L211.39,294.74 L212.48,296.15 L213.56,297.54 L214.64,298.90 L215.72,300.24 L216.80,301.56 L217.88,302.85 L218.96,304.13 L220.04,305.38 L221.12,306.61 L222.21,307.82 L223.29,309.02 L224.37,310.19 L225.45,311.35 L226.53,312.48 L227.61,313.60 L228.69,314.70 L229.77,315.79 L230.85,316.86 L231.94,317.91 L233.02,318.94 L234.10,319.96 L235.18,320.97 L236.26,321.96 L237.34,322.93 L238.42,323.89 L239.50,324.84 L240.58,325.77 L241.67,326.69 L242.75,327.60 L243.83,328.49 L244.91,329.37 L245.99,330.24 L247.07,331.10 L248.15,331.95 L249.23,332.78 L250.31,333.61 L251.40,334.42 L252.48,335.22 L253.56,336.02 L254.64,336.80 L255.72,337.57 L256.80,338.34 L257.88,339.09 L258.96,339.83 L260.04,340.57 L261.13,341.30 L262.21,342.01 L263.29,342.72 L264.37,343.42 L265.45,344.12 L266.53,344.80 L267.61,345.48 L268.69,346.15 L269.77,346.81 L270.86,347.46 L271.94,348.11 L273.02,348.75 L274.10,349.38 L275.18,350.01 L276.26,350.63 L277.34,351.24 L278.42,351.85 L279.50,352.45 L280.59,353.04 L281.67,353.63 L282.75,354.21 L283.83,354.78 L284.91,355.35 L285.99,355.91 L287.07,356.47 L288.15,357.02 L289.23,357.57 L290.32,358.11 L291.40,358.64 L292.48,359.17 L293.56,359.70 L294.64,360.22 L295.72,360.73 L296.80,361.24 L297.88,361.74 L298.96,362.24 L300.05,362.73 L301.13,363.22 L302.21,363.71 L303.29,364.19 L304.37,364.66 L305.45,365.13 L306.53,365.60 L307.61,366.06 L308.69,366.51 L309.78,366.96 L310.86,367.41 L311.94,367.85 L313.02,368.29 L314.10,368.73 L315.18,369.16 L316.26,369.58 L317.34,370.00 L318.42,370.42 L319.51,370.83 L320.59,371.24 L321.67,371.65 L322.75,372.05 L323.83,372.45 L324.91,372.84 L325.99,373.23 L327.07,373.62 L328.15,374.00 L329.24,374.38 L330.32,374.75 L331.40,375.12 L332.48,375.49 L333.56,375.86 L334.64,376.22 L335.72,376.57 L336.80,376.93 L337.88,377.28 L338.97,377.62 L340.05,377.96 L341.13,378.30 L342.21,378.64 L343.29,378.97 L344.37,379.30 L345.45,379.63 L346.53,379.95 L347.61,380.27 L348.70,380.59 L349.78,380.90 L350.86,381.21 L351.94,381.52 L353.02,381.82 L354.10,382.12 L355.18,382.42 L356.26,382.71 L357.34,383.01 L358.43,383.29 L359.51,383.58 L360.59,383.86 L361.67,384.14 L362.75,384.42 L363.83,384.70 L364.91,384.97 L365.99,385.24 L367.07,385.50 L368.16,385.76 L369.24,386.03 L370.32,386.28 L371.40,386.54 L372.48,386.79 L373.56,387.04 L374.64,387.29 L375.72,387.53 L376.80,387.77 L377.89,388.01 L378.97,388.25 L380.05,388.49 L381.13,388.72 L382.21,388.95 L383.29,389.18 L384.37,389.40 L385.45,389.62 L386.53,389.84 L387.62,390.06 L388.70,390.28 L389.78,390.49 L390.86,390.70 L391.94,390.91 L393.02,391.12 L394.10,391.32 L395.18,391.52 L396.26,391.72 L397.35,391.92 L398.43,392.12 L399.51,392.31 L400.59,392.50 L401.67,392.69 L402.75,392.88 L403.83,393.06 L404.91,393.25 L405.99,393.43 L407.08,393.61 L408.16,393.78 L409.24,393.96 L410.32,394.13 L411.40,394.30 L412.48,394.47 L413.56,394.64 L414.64,394.81 L415.72,394.97 L416.81,395.14 L417.89,395.30 L418.97,395.46 L420.05,395.61 L421.13,395.77 L422.21,395.92 L423.29,396.07 L424.37,396.22 L425.45,396.37 L426.54,396.52 L427.62,396.66 L428.70,396.81 L429.78,396.95 L430.86,397.09 L431.94,397.23 L433.02,397.37 L434.10,397.50 L435.18,397.64 L436.27,397.77 L437.35,397.90 L438.43,398.03 L439.51,398.16 L440.59,398.29 L441.67,398.41 L442.75,398.54 L443.83,398.66 L444.91,398.78 L446.00,398.90 L447.08,399.02 L448.16,399.14 L449.24,399.25 L450.32,399.37 L451.40,399.48 L452.48,399.59 L453.56,399.70 L454.64,399.81 L455.73,399.92 L456.81,400.03 L457.89,400.13 L458.97,400.24 L460.05,400.34" fill="none" stroke="#696969" stroke-width="2.05" stroke-dasharray="11 6.57" stroke-dashoffset="0.35" stroke-linejoin="round"/>
<path d="M70.85,336.53 L71.93,329.92 L73.01,323.07 L74.09,315.34 L75.17,307.00 L76.26,298.25 L77.34,289.24 L78.42,280.08 L79.50,270.87 L80.58,261.67 L81.66,252.55 L82.74,243.56 L83.82,234.72 L84.90,226.08 L85.99,217.65 L87.07,209.47 L88.15,201.54 L89.23,193.88 L90.31,186.50 L91.39,179.41 L92.47,172.61 L93.55,166.11 L94.63,159.91 L95.72,154.01 L96.80,148.40 L97.88,143.10 L98.96,138.09 L100.04,133.37 L101.12,128.94 L102.20,124.79 L103.28,120.92 L104.36,117.32 L105.45,113.99 L106.53,110.92 L107.61,108.10 L108.69,105.52 L109.77,103.19 L110.85,101.09 L111.93,99.21 L113.01,97.56 L114.09,96.11 L115.18,94.87 L116.26,93.82 L117.34,92.96 L118.42,92.29 L119.50,91.79 L120.58,91.46 L121.66,91.29 L122.74,91.28 L123.82,91.41 L124.91,91.69 L125.99,92.10 L127.07,92.64 L128.15,93.30 L129.23,94.08 L130.31,94.97 L131.39,95.96 L132.47,97.06 L133.55,98.24 L134.64,99.52 L135.72,100.88 L136.80,102.32 L137.88,103.83 L138.96,105.42 L140.04,107.06 L141.12,108.77 L142.20,110.54 L143.28,112.35 L144.37,114.22 L145.45,116.13 L146.53,118.08 L147.61,120.07 L148.69,122.09 L149.77,124.14 L150.85,126.22 L151.93,128.33 L153.01,130.46 L154.10,132.60 L155.18,134.77 L156.26,136.95 L157.34,139.14 L158.42,141.34 L159.50,143.55 L160.58,145.76 L161.66,147.98 L162.74,150.20 L163.83,152.42 L164.91,154.64 L165.99,156.86 L167.07,159.07 L168.15,161.27 L169.23,163.47 L170.31,165.67 L171.39,167.85 L172.47,170.02 L173.56,172.18 L174.64,174.33 L175.72,176.46 L176.80,178.58 L177.88,180.69 L178.96,182.78 L180.04,184.86 L181.12,186.92 L182.20,188.96 L183.29,190.99 L184.37,193.00 L185.45,194.98 L186.53,196.96 L187.61,198.91 L188.69,200.84 L189.77,202.76 L190.85,204.65 L191.93,206.53 L193.02,208.39 L194.10,210.22 L195.18,212.04 L196.26,213.84 L197.34,215.61 L198.42,217.37 L199.50,219.11 L200.58,220.83 L201.66,222.53 L202.75,224.21 L203.83,225.87 L204.91,227.51 L205.99,229.14 L207.07,230.74 L208.15,232.33 L209.23,233.89 L210.31,235.44 L211.39,236.97 L212.48,238.49 L213.56,239.98 L214.64,241.46 L215.72,242.92 L216.80,244.37 L217.88,245.80 L218.96,247.21 L220.04,248.60 L221.12,249.98 L222.21,251.34 L223.29,252.69 L224.37,254.03 L225.45,255.34 L226.53,256.65 L227.61,257.94 L228.69,259.21 L229.77,260.47 L230.85,261.72 L231.94,262.95 L233.02,264.18 L234.10,265.38 L235.18,266.58 L236.26,267.76 L237.34,268.93 L238.42,270.09 L239.50,271.24 L240.58,272.38 L241.67,273.50 L242.75,274.61 L243.83,275.72 L244.91,276.81 L245.99,277.89 L247.07,278.96 L248.15,280.03 L249.23,281.08 L250.31,282.12 L251.40,283.15 L252.48,284.18 L253.56,285.19 L254.64,286.20 L255.72,287.20 L256.80,288.19 L257.88,289.17 L258.96,290.14 L260.04,291.10 L261.13,292.06 L262.21,293.01 L263.29,293.95 L264.37,294.88 L265.45,295.81 L266.53,296.73 L267.61,297.64 L268.69,298.55 L269.77,299.44 L270.86,300.34 L271.94,301.22 L273.02,302.10 L274.10,302.97 L275.18,303.83 L276.26,304.69 L277.34,305.54 L278.42,306.39 L279.50,307.23 L280.59,308.06 L281.67,308.89 L282.75,309.72 L283.83,310.53 L284.91,311.34 L285.99,312.15 L287.07,312.95 L288.15,313.74 L289.23,314.53 L290.32,315.31 L291.40,316.09 L292.48,316.86 L293.56,317.63 L294.64,318.39 L295.72,319.15 L296.80,319.90 L297.88,320.65 L298.96,321.39 L300.05,322.12 L301.13,322.85 L302.21,323.58 L303.29,324.30 L304.37,325.02 L305.45,325.73 L306.53,326.44 L307.61,327.14 L308.69,327.83 L309.78,328.52 L310.86,329.21 L311.94,329.89 L313.02,330.57 L314.10,331.24 L315.18,331.91 L316.26,332.57 L317.34,333.23 L318.42,333.89 L319.51,334.53 L320.59,335.18 L321.67,335.82 L322.75,336.45 L323.83,337.08 L324.91,337.71 L325.99,338.33 L327.07,338.95 L328.15,339.56 L329.24,340.16 L330.32,340.77 L331.40,341.37 L332.48,341.96 L333.56,342.55 L334.64,343.13 L335.72,343.71 L336.80,344.29 L337.88,344.86 L338.97,345.42 L340.05,345.99 L341.13,346.54 L342.21,347.10 L343.29,347.64 L344.37,348.19 L345.45,348.73 L346.53,349.26 L347.61,349.79 L348.70,350.32 L349.78,350.84 L350.86,351.36 L351.94,351.87 L353.02,352.38 L354.10,352.89 L355.18,353.39 L356.26,353.88 L357.34,354.37 L358.43,354.86 L359.51,355.35 L360.59,355.82 L361.67,356.30 L362.75,356.77 L363.83,357.24 L364.91,357.70 L365.99,358.16 L367.07,358.61 L368.16,359.06 L369.24,359.50 L370.32,359.95 L371.40,360.38 L372.48,360.82 L373.56,361.25 L374.64,361.67 L375.72,362.09 L376.80,362.51 L377.89,362.92 L378.97,363.33 L380.05,363.74 L381.13,364.14 L382.21,364.54 L383.29,364.93 L384.37,365.32 L385.45,365.71 L386.53,366.09 L387.62,366.47 L388.70,366.84 L389.78,367.21 L390.86,367.58 L391.94,367.94 L393.02,368.30 L394.10,368.66 L395.18,369.01 L396.26,369.36 L397.35,369.71 L398.43,370.05 L399.51,370.39 L400.59,370.73 L401.67,371.06 L402.75,371.39 L403.83,371.71 L404.91,372.03 L405.99,372.35 L407.08,372.66 L408.16,372.98 L409.24,373.28 L410.32,373.59 L411.40,373.89 L412.48,374.19 L413.56,374.49 L414.64,374.78 L415.72,375.07 L416.81,375.35 L417.89,375.64 L418.97,375.92 L420.05,376.19 L421.13,376.47 L422.21,376.74 L423.29,377.01 L424.37,377.27 L425.45,377.53 L426.54,377.79 L427.62,378.05 L428.70,378.30 L429.78,378.55 L430.86,378.80 L431.94,379.05 L433.02,379.29 L434.10,379.53 L435.18,379.77 L436.27,380.00 L437.35,380.24 L438.43,380.47 L439.51,380.69 L440.59,380.92 L441.67,381.14 L442.75,381.36 L443.83,381.58 L444.91,381.79 L446.00,382.00 L447.08,382.21 L448.16,382.42 L449.24,382.63 L450.32,382.83 L451.40,383.03 L452.48,383.23 L453.56,383.43 L454.64,383.62 L455.73,383.81 L456.81,384.00 L457.89,384.19 L458.97,384.38 L460.05,384.56" fill="none" stroke="#b063b9" stroke-width="4.3" stroke-dasharray="12.8 4.8" stroke-dashoffset="6.54" stroke-linejoin="round"/>
</g>
<g stroke="#000" stroke-width="1.9" fill="none">
<line x1="70.85" y1="409.30" x2="70.85" y2="406.30"/><line x1="70.85" y1="16.10" x2="70.85" y2="19.20"/><line x1="81.66" y1="409.30" x2="81.66" y2="406.30"/><line x1="81.66" y1="16.10" x2="81.66" y2="19.20"/><line x1="92.47" y1="409.30" x2="92.47" y2="406.30"/><line x1="92.47" y1="16.10" x2="92.47" y2="19.20"/><line x1="103.28" y1="409.30" x2="103.28" y2="404.30"/><line x1="103.28" y1="16.10" x2="103.28" y2="21.20"/><line x1="114.09" y1="409.30" x2="114.09" y2="406.30"/><line x1="114.09" y1="16.10" x2="114.09" y2="19.20"/><line x1="124.91" y1="409.30" x2="124.91" y2="406.30"/><line x1="124.91" y1="16.10" x2="124.91" y2="19.20"/><line x1="135.72" y1="409.30" x2="135.72" y2="406.30"/><line x1="135.72" y1="16.10" x2="135.72" y2="19.20"/><line x1="146.53" y1="409.30" x2="146.53" y2="406.30"/><line x1="146.53" y1="16.10" x2="146.53" y2="19.20"/><line x1="157.34" y1="409.30" x2="157.34" y2="404.30"/><line x1="157.34" y1="16.10" x2="157.34" y2="21.20"/><line x1="168.15" y1="409.30" x2="168.15" y2="406.30"/><line x1="168.15" y1="16.10" x2="168.15" y2="19.20"/><line x1="178.96" y1="409.30" x2="178.96" y2="406.30"/><line x1="178.96" y1="16.10" x2="178.96" y2="19.20"/><line x1="189.77" y1="409.30" x2="189.77" y2="406.30"/><line x1="189.77" y1="16.10" x2="189.77" y2="19.20"/><line x1="200.58" y1="409.30" x2="200.58" y2="406.30"/><line x1="200.58" y1="16.10" x2="200.58" y2="19.20"/><line x1="211.39" y1="409.30" x2="211.39" y2="404.30"/><line x1="211.39" y1="16.10" x2="211.39" y2="21.20"/><line x1="222.21" y1="409.30" x2="222.21" y2="406.30"/><line x1="222.21" y1="16.10" x2="222.21" y2="19.20"/><line x1="233.02" y1="409.30" x2="233.02" y2="406.30"/><line x1="233.02" y1="16.10" x2="233.02" y2="19.20"/><line x1="243.83" y1="409.30" x2="243.83" y2="406.30"/><line x1="243.83" y1="16.10" x2="243.83" y2="19.20"/><line x1="254.64" y1="409.30" x2="254.64" y2="406.30"/><line x1="254.64" y1="16.10" x2="254.64" y2="19.20"/><line x1="265.45" y1="409.30" x2="265.45" y2="404.30"/><line x1="265.45" y1="16.10" x2="265.45" y2="21.20"/><line x1="276.26" y1="409.30" x2="276.26" y2="406.30"/><line x1="276.26" y1="16.10" x2="276.26" y2="19.20"/><line x1="287.07" y1="409.30" x2="287.07" y2="406.30"/><line x1="287.07" y1="16.10" x2="287.07" y2="19.20"/><line x1="297.88" y1="409.30" x2="297.88" y2="406.30"/><line x1="297.88" y1="16.10" x2="297.88" y2="19.20"/><line x1="308.69" y1="409.30" x2="308.69" y2="406.30"/><line x1="308.69" y1="16.10" x2="308.69" y2="19.20"/><line x1="319.51" y1="409.30" x2="319.51" y2="404.30"/><line x1="319.51" y1="16.10" x2="319.51" y2="21.20"/><line x1="330.32" y1="409.30" x2="330.32" y2="406.30"/><line x1="330.32" y1="16.10" x2="330.32" y2="19.20"/><line x1="341.13" y1="409.30" x2="341.13" y2="406.30"/><line x1="341.13" y1="16.10" x2="341.13" y2="19.20"/><line x1="351.94" y1="409.30" x2="351.94" y2="406.30"/><line x1="351.94" y1="16.10" x2="351.94" y2="19.20"/><line x1="362.75" y1="409.30" x2="362.75" y2="406.30"/><line x1="362.75" y1="16.10" x2="362.75" y2="19.20"/><line x1="373.56" y1="409.30" x2="373.56" y2="404.30"/><line x1="373.56" y1="16.10" x2="373.56" y2="21.20"/><line x1="384.37" y1="409.30" x2="384.37" y2="406.30"/><line x1="384.37" y1="16.10" x2="384.37" y2="19.20"/><line x1="395.18" y1="409.30" x2="395.18" y2="406.30"/><line x1="395.18" y1="16.10" x2="395.18" y2="19.20"/><line x1="405.99" y1="409.30" x2="405.99" y2="406.30"/><line x1="405.99" y1="16.10" x2="405.99" y2="19.20"/><line x1="416.81" y1="409.30" x2="416.81" y2="406.30"/><line x1="416.81" y1="16.10" x2="416.81" y2="19.20"/><line x1="427.62" y1="409.30" x2="427.62" y2="404.30"/><line x1="427.62" y1="16.10" x2="427.62" y2="21.20"/><line x1="438.43" y1="409.30" x2="438.43" y2="406.30"/><line x1="438.43" y1="16.10" x2="438.43" y2="19.20"/><line x1="449.24" y1="409.30" x2="449.24" y2="406.30"/><line x1="449.24" y1="16.10" x2="449.24" y2="19.20"/><line x1="460.05" y1="409.30" x2="460.05" y2="406.30"/><line x1="460.05" y1="16.10" x2="460.05" y2="19.20"/><line x1="70.85" y1="409.30" x2="75.85" y2="409.30"/><line x1="460.05" y1="409.30" x2="455.05" y2="409.30"/><line x1="70.85" y1="393.57" x2="73.85" y2="393.57"/><line x1="460.05" y1="393.57" x2="457.05" y2="393.57"/><line x1="70.85" y1="377.84" x2="73.85" y2="377.84"/><line x1="460.05" y1="377.84" x2="457.05" y2="377.84"/><line x1="70.85" y1="362.12" x2="73.85" y2="362.12"/><line x1="460.05" y1="362.12" x2="457.05" y2="362.12"/><line x1="70.85" y1="346.39" x2="73.85" y2="346.39"/><line x1="460.05" y1="346.39" x2="457.05" y2="346.39"/><line x1="70.85" y1="330.66" x2="75.85" y2="330.66"/><line x1="460.05" y1="330.66" x2="455.05" y2="330.66"/><line x1="70.85" y1="314.93" x2="73.85" y2="314.93"/><line x1="460.05" y1="314.93" x2="457.05" y2="314.93"/><line x1="70.85" y1="299.20" x2="73.85" y2="299.20"/><line x1="460.05" y1="299.20" x2="457.05" y2="299.20"/><line x1="70.85" y1="283.48" x2="73.85" y2="283.48"/><line x1="460.05" y1="283.48" x2="457.05" y2="283.48"/><line x1="70.85" y1="267.75" x2="73.85" y2="267.75"/><line x1="460.05" y1="267.75" x2="457.05" y2="267.75"/><line x1="70.85" y1="252.02" x2="75.85" y2="252.02"/><line x1="460.05" y1="252.02" x2="455.05" y2="252.02"/><line x1="70.85" y1="236.29" x2="73.85" y2="236.29"/><line x1="460.05" y1="236.29" x2="457.05" y2="236.29"/><line x1="70.85" y1="220.56" x2="73.85" y2="220.56"/><line x1="460.05" y1="220.56" x2="457.05" y2="220.56"/><line x1="70.85" y1="204.84" x2="73.85" y2="204.84"/><line x1="460.05" y1="204.84" x2="457.05" y2="204.84"/><line x1="70.85" y1="189.11" x2="73.85" y2="189.11"/><line x1="460.05" y1="189.11" x2="457.05" y2="189.11"/><line x1="70.85" y1="173.38" x2="75.85" y2="173.38"/><line x1="460.05" y1="173.38" x2="455.05" y2="173.38"/><line x1="70.85" y1="157.65" x2="73.85" y2="157.65"/><line x1="460.05" y1="157.65" x2="457.05" y2="157.65"/><line x1="70.85" y1="141.92" x2="73.85" y2="141.92"/><line x1="460.05" y1="141.92" x2="457.05" y2="141.92"/><line x1="70.85" y1="126.20" x2="73.85" y2="126.20"/><line x1="460.05" y1="126.20" x2="457.05" y2="126.20"/><line x1="70.85" y1="110.47" x2="73.85" y2="110.47"/><line x1="460.05" y1="110.47" x2="457.05" y2="110.47"/><line x1="70.85" y1="94.74" x2="75.85" y2="94.74"/><line x1="460.05" y1="94.74" x2="455.05" y2="94.74"/><line x1="70.85" y1="79.01" x2="73.85" y2="79.01"/><line x1="460.05" y1="79.01" x2="457.05" y2="79.01"/><line x1="70.85" y1="63.28" x2="73.85" y2="63.28"/><line x1="460.05" y1="63.28" x2="457.05" y2="63.28"/><line x1="70.85" y1="47.56" x2="73.85" y2="47.56"/><line x1="460.05" y1="47.56" x2="457.05" y2="47.56"/><line x1="70.85" y1="31.83" x2="73.85" y2="31.83"/><line x1="460.05" y1="31.83" x2="457.05" y2="31.83"/><line x1="70.85" y1="16.10" x2="75.85" y2="16.10"/><line x1="460.05" y1="16.10" x2="455.05" y2="16.10"/>
</g>
<rect x="70.85" y="16.1" width="389.20000000000005" height="393.2" fill="none" stroke="#000" stroke-width="2.2"/>
<g style="filter:grayscale(1)"><text transform="translate(102.98,433.8) scale(0.945,1)" text-anchor="middle" style="font-size:24.2px">5</text><text transform="translate(157.04,433.8) scale(0.945,1)" text-anchor="middle" style="font-size:24.2px">10</text><text transform="translate(211.09,433.8) scale(0.945,1)" text-anchor="middle" style="font-size:24.2px">15</text><text transform="translate(265.15,433.8) scale(0.945,1)" text-anchor="middle" style="font-size:24.2px">20</text><text transform="translate(319.21,433.8) scale(0.945,1)" text-anchor="middle" style="font-size:24.2px">25</text><text transform="translate(373.26,433.8) scale(0.945,1)" text-anchor="middle" style="font-size:24.2px">30</text><text transform="translate(427.32,433.8) scale(0.945,1)" text-anchor="middle" style="font-size:24.2px">35</text><text transform="translate(66.1,416.90) scale(0.94,1)" text-anchor="end" style="font-size:24.2px">0.0</text><text transform="translate(66.1,338.26) scale(0.94,1)" text-anchor="end" style="font-size:24.2px">0.1</text><text transform="translate(66.1,259.62) scale(0.94,1)" text-anchor="end" style="font-size:24.2px">0.2</text><text transform="translate(66.1,180.98) scale(0.94,1)" text-anchor="end" style="font-size:24.2px">0.3</text><text transform="translate(66.1,102.34) scale(0.94,1)" text-anchor="end" style="font-size:24.2px">0.4</text><text transform="translate(66.1,23.70) scale(0.94,1)" text-anchor="end" style="font-size:24.2px">0.5</text>
<text x="208.3" y="457.8" style="font-size:23.5px">E</text>
<text x="224.9" y="462.5" style="font-size:17px">e</text>
<text x="233.6" y="458.2" style="font-size:12px;stroke:#000;stroke-width:0.35px">+</text>
<text x="247.7" y="457.8">[MeV]</text>
<text transform="translate(22.70,376.90) rotate(-90) scale(1.04,1)">d</text><text transform="translate(22.70,366.60) rotate(-90) scale(1.08,1)">N</text><line x1="27" y1="347.6" x2="7.2" y2="341.3" stroke="#000" stroke-width="1.2"/><text transform="translate(22.70,341.10) rotate(-90)">d</text><text transform="translate(22.70,330.90) rotate(-90)">E</text><text transform="translate(22.70,309.50) rotate(-90)">[</text><text transform="translate(22.70,295.20) rotate(-90)">yr</text><text transform="translate(13.70,276.10) rotate(-90)" style="font-size:16px">−1</text><text transform="translate(22.70,251.20) rotate(-90)">MeV</text><text transform="translate(13.70,203.30) rotate(-90)" style="font-size:16px">−1</text><text transform="translate(22.70,178.70) rotate(-90)">(22.5</text><text transform="translate(22.70,125.20) rotate(-90)">kton</text><text transform="translate(22.70,84.35) rotate(-90)">)</text><text transform="translate(13.70,75.80) rotate(-90)" style="font-size:16px">−1</text><text transform="translate(22.70,56.20) rotate(-90)">]</text></g>
<g class="lg">
<rect x="259.4" y="29.9" width="190" height="92.6" rx="3" ry="3" fill="#fff"/>
<line x1="267.4" y1="50.6" x2="310.3" y2="50.6" stroke="#b8740a" stroke-width="2.2"/>
<line x1="265.9" y1="70.1" x2="311.6" y2="70.1" stroke="#45abc6" stroke-width="4.1"/>
<line x1="267.3" y1="89.45" x2="310.3" y2="89.45" stroke="#696969" stroke-width="2.05" stroke-dasharray="10.25 6.15"/>
<line x1="265.9" y1="108.85" x2="310.4" y2="108.85" stroke="#b063b9" stroke-width="4.3" stroke-dasharray="12.3 4.1"/>
<g style="filter:grayscale(1)"><text x="320.5" y="51.4">CCSN Model</text>
<text x="320.5" y="70.5">CCSN &amp; BH Model</text>
<text x="320.5" y="89.8">SN 1987A</text>
<text x="320.5" y="109.1">SN 1987A &amp; BH</text></g>
</g>
</svg>
</body></html>
